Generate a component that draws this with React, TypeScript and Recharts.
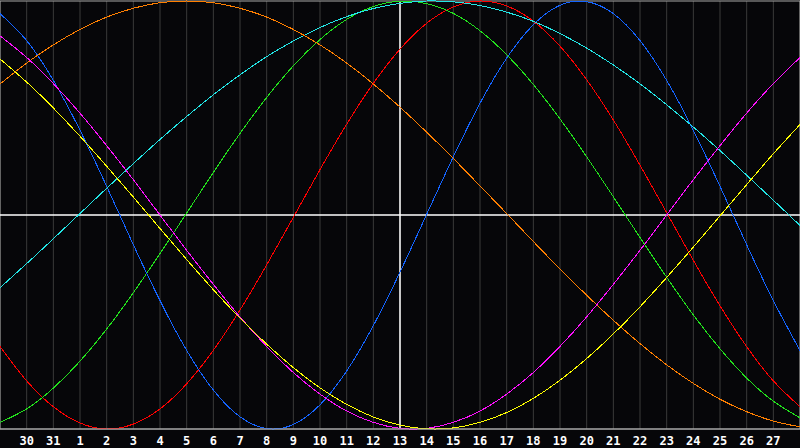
import React from "react";
import {
  LineChart,
  Line,
  XAxis,
  YAxis,
  CartesianGrid,
  ReferenceLine,
  ReferenceArea,
} from "recharts";

// day-of-month labels, one per column (first and last sit on the frame)
const days = [29, 30, 31, 1, 2, 3, 4, 5, 6, 7, 8, 9, 10, 11, 12, 13, 14, 15, 16, 17, 18, 19, 20, 21, 22, 23, 24, 25, 26, 27, 28];
const todayIndex = 15;
const tickIndexes = days.map((_, i) => i).filter((i) => i > 0 && i < days.length - 1);

// values, -1 .. 1
const redSeries = [-0.615, -0.775, -0.896, -0.972, -1.0, -0.977, -0.906, -0.789, -0.632, -0.444, -0.233, -0.011, 0.212, 0.424, 0.615, 0.775, 0.896, 0.972, 1.0, 0.977, 0.906, 0.789, 0.632, 0.444, 0.233, 0.011, -0.212, -0.424, -0.615, -0.775, -0.896];
const greenSeries = [-0.969, -0.906, -0.809, -0.683, -0.533, -0.363, -0.18, 0.009, 0.199, 0.381, 0.549, 0.697, 0.82, 0.914, 0.974, 0.999, 0.988, 0.942, 0.861, 0.749, 0.61, 0.449, 0.272, 0.085, -0.105, -0.291, -0.467, -0.625, -0.762, -0.87, -0.948];
const blueSeries = [0.941, 0.815, 0.629, 0.396, 0.134, -0.139, -0.4, -0.633, -0.818, -0.943, -0.998, -0.979, -0.887, -0.729, -0.517, -0.267, 0.003, 0.272, 0.522, 0.733, 0.889, 0.98, 0.997, 0.941, 0.815, 0.629, 0.396, 0.134, -0.139, -0.4, -0.633];
const cyanSeries = [-0.34, -0.227, -0.111, 0.007, 0.125, 0.24, 0.353, 0.46, 0.562, 0.655, 0.74, 0.813, 0.876, 0.927, 0.965, 0.989, 1.0, 0.996, 0.979, 0.948, 0.905, 0.848, 0.78, 0.701, 0.613, 0.515, 0.411, 0.301, 0.186, 0.069, -0.049];
const orangeSeries = [0.612, 0.71, 0.795, 0.867, 0.925, 0.966, 0.992, 1.0, 0.992, 0.966, 0.925, 0.867, 0.795, 0.71, 0.612, 0.504, 0.387, 0.264, 0.136, 0.007, -0.124, -0.252, -0.375, -0.492, -0.601, -0.7, -0.787, -0.861, -0.919, -0.963, -0.99];
const magentaSeries = [0.837, 0.736, 0.614, 0.476, 0.324, 0.165, 0.0, -0.165, -0.324, -0.476, -0.614, -0.736, -0.837, -0.916, -0.969, -0.997, -0.997, -0.969, -0.916, -0.837, -0.736, -0.614, -0.476, -0.324, -0.165, 0.0, 0.165, 0.324, 0.476, 0.614, 0.736];
const yellowSeries = [0.729, 0.621, 0.5, 0.368, 0.228, 0.084, -0.063, -0.208, -0.349, -0.482, -0.603, -0.713, -0.808, -0.885, -0.944, -0.982, -0.999, -0.995, -0.969, -0.923, -0.857, -0.772, -0.671, -0.556, -0.429, -0.292, -0.15, -0.004, 0.142, 0.286, 0.423];

const series = [
  { key: "red", color: "#ff0000", values: redSeries },
  { key: "green", color: "#22e01c", values: greenSeries },
  { key: "blue", color: "#1464ff", values: blueSeries },
  { key: "cyan", color: "#22e6e6", values: cyanSeries },
  { key: "orange", color: "#ff7f00", values: orangeSeries },
  { key: "magenta", color: "#ff10ff", values: magentaSeries },
  { key: "yellow", color: "#ffff00", values: yellowSeries },
];

const data = days.map((day, i) => {
  const row: { [k: string]: number } = { i, day };
  series.forEach((s) => {
    row[s.key] = s.values[i];
  });
  return row;
});

export default function App() {
  return (
    <div style={{ position: "fixed", left: 0, top: 0, width: 800, height: 448, background: "#060609" }}>
      <LineChart width={800} height={448} data={data} margin={{ top: 1, right: 0, left: 0, bottom: 0 }}>
        <CartesianGrid horizontal={false} stroke="#3a3a3a" strokeWidth={1} />
        <XAxis
          dataKey="i"
          type="number"
          height={19}
          domain={[0, days.length - 1]}
          ticks={tickIndexes}
          tickFormatter={(v: number) => String(days[v])}
          stroke="#a8a8a8"
          tickLine={false}
          tickSize={6}
          tickMargin={1}
          tick={{ fill: "#ffffff", fontSize: 12, fontWeight: "bold", fontFamily: "DejaVu Sans Mono" }}
        />
        <YAxis hide domain={[-1, 1]} type="number" />
        <ReferenceArea x1={0} x2={days.length - 1} y1={-1} y2={1} fill="none" stroke="#a8a8a8" strokeOpacity={1} fillOpacity={0} />
        <ReferenceLine y={0} stroke="#ffffff" strokeWidth={1.5} />
        <ReferenceLine x={todayIndex} stroke="#ffffff" strokeWidth={1.5} />
        {series.map((s) => (
          <Line
            key={s.key}
            type="natural"
            dataKey={s.key}
            stroke={s.color}
            strokeWidth={1}
            dot={false}
            activeDot={false}
            isAnimationActive={false}
            shapeRendering="crispEdges"
          />
        ))}
      </LineChart>
    </div>
  );
}
